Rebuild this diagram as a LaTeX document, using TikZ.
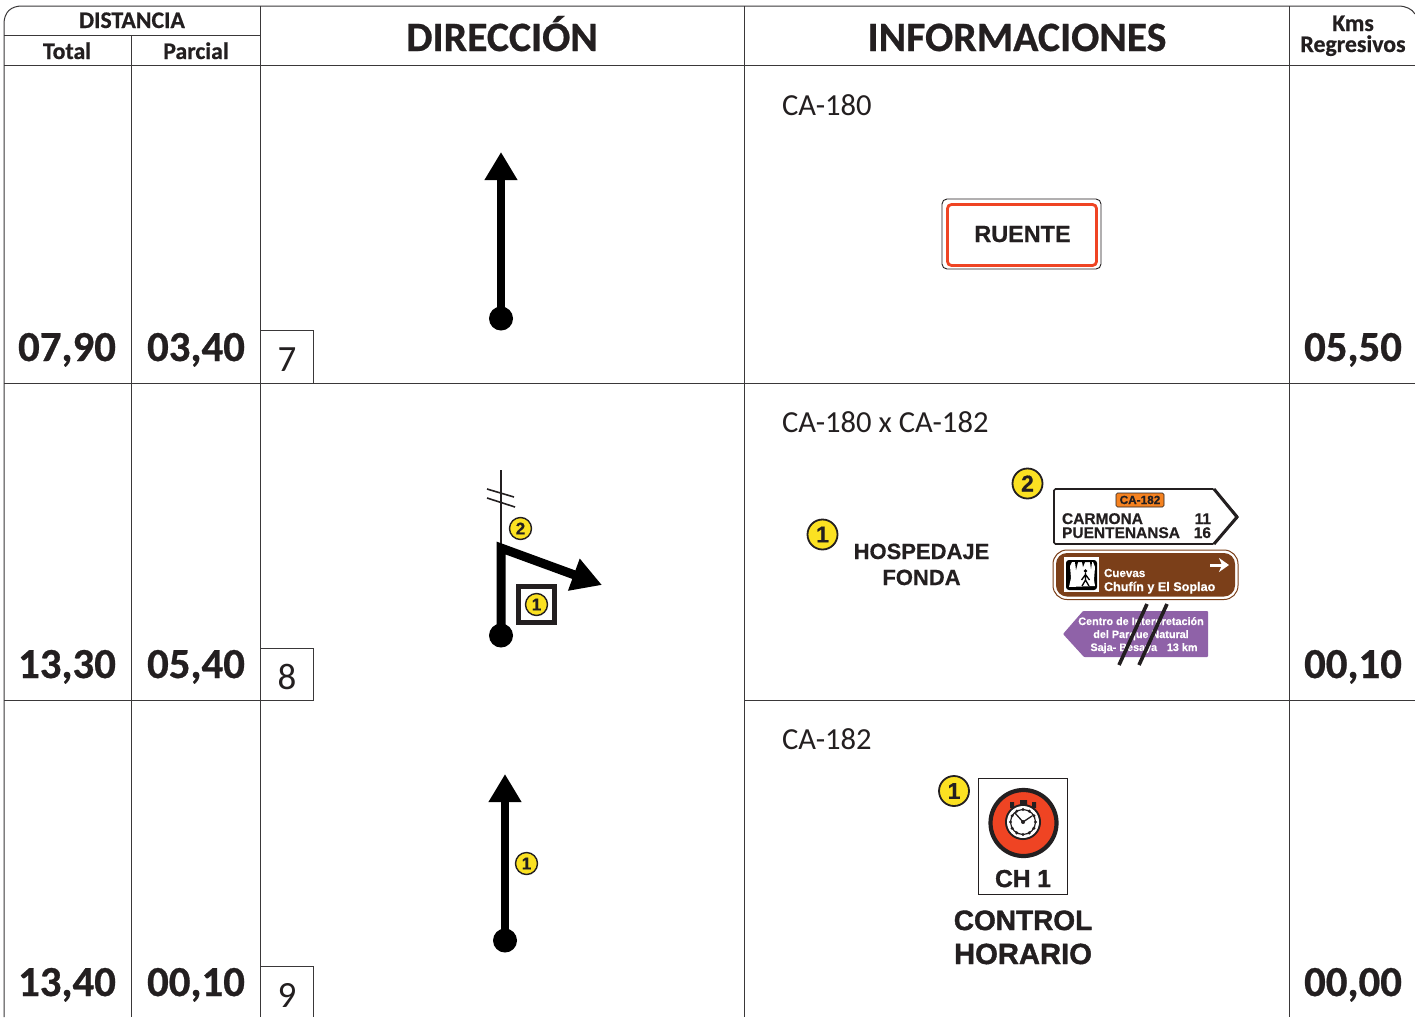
\documentclass[tikz,border=0pt]{standalone}
\usepackage{fontspec}
\usetikzlibrary{arrows.meta}
\setmainfont[BoldFeatures={FakeBold=0.6}]{Carlito}
\newfontfamily\arsf[BoldFeatures={FakeBold=0.5}]{Liberation Sans}
\newfontfamily\arsh[BoldFeatures={FakeBold=1.4}]{Liberation Sans}
\newcommand{\fs}[1]{\fontsize{#1}{#1}\selectfont}
\definecolor{gridc}{HTML}{3A3839}
\definecolor{ink}{HTML}{231F20}
\definecolor{badge}{HTML}{FBE122}
\definecolor{signred}{HTML}{EF4423}
\definecolor{brownsign}{HTML}{7B3F19}
\definecolor{purplesign}{HTML}{8F62A8}
\definecolor{orangeplate}{HTML}{F58220}
\tikzset{
  grid/.style={draw=gridc,line width=1pt},
  txt/.style={inner sep=0pt,outer sep=0pt,text=ink,anchor=base},
  ltxt/.style={txt,anchor=base west},
  head/.style={txt,font=\fs{23.8}\bfseries},
  big/.style={txt,font=\fs{41.7}\bfseries},
  num/.style={txt,font=\fs{42.8}\bfseries},
  idx/.style={txt,font=\fs{37}},
  road/.style={ltxt,font=\fs{30.6}},
  sgn/.style={txt,font=\arsf\bfseries\fs{#1}},
  hsgn/.style={txt,font=\arsh\bfseries\fs{#1}},
  lsgn/.style={ltxt,font=\arsf\bfseries\fs{#1}},
  markS/.style={circle,draw=ink,fill=badge,line width=1.4pt,minimum size=22pt,inner sep=0pt,text=ink,font=\arsf\bfseries\fs{17}},
  markL/.style={circle,draw=ink,fill=badge,line width=1.8pt,minimum size=30pt,inner sep=0pt,text=ink,font=\arsf\bfseries\fs{23}},
  startdot/.style={circle,fill=black,minimum size=24pt,inner sep=0pt},
  route/.style={line width=8pt,draw=black,-{Triangle[length=28pt,width=31pt]}},
  thinl/.style={draw=ink,line width=1.8pt},
  strike/.style={draw=ink,line width=3.6pt},
}
\begin{document}
\begin{tikzpicture}[x=1pt,y=-1pt]
\useasboundingbox (0,0) rectangle (1415,1017);
\fill[white] (0,0) rectangle (1415,1017);
% grid
\draw[grid] (4,1017) -- (4,24) .. controls (4,12) and (11,6) .. (22,6) -- (1398,6) .. controls (1406,6) and (1412,9) .. (1415,14);
\draw[grid] (4,35.6) -- (260.5,35.6);
\draw[grid] (4,65.6) -- (1415,65.6);
\draw[grid] (4,383) -- (1415,383);
\draw[grid] (4,700.8) -- (313,700.8);
\draw[grid] (744.5,700.8) -- (1415,700.8);
\draw[grid] (131.8,35.6) -- (131.8,1017);
\draw[grid] (260.5,6) -- (260.5,1017);
\draw[grid] (744.5,6) -- (744.5,1017);
\draw[grid] (1289,6) -- (1289,1017);
\draw[grid] (260.5,330) -- (313,330) -- (313,383);
\draw[grid] (260.5,648) -- (313,648) -- (313,700.8);
\draw[grid] (260.5,966) -- (313,966) -- (313,1017);
% header
\node[head] (hdist) at (132,28) {DISTANCIA};
\node[head] (htot) at (67,59) {Total};
\node[head] (hpar) at (196,59) {Parcial};
\node[big] (hdir) at (502,51) {DIRECCIÓN};
\node[big] (hinf) at (1017,51) {INFORMACIONES};
\node[head] (hkms) at (1353,31) {Kms};
\node[head] (hreg) at (1353,52) {Regresivos};
% row numbers
\node[num] (a1) at (67,361) {07,90};
\node[num] (b1) at (196,361) {03,40};
\node[num] (c1) at (1353,361) {05,50};
\node[num] (a2) at (67,678) {13,30};
\node[num] (b2) at (196,678) {05,40};
\node[num] (c2) at (1353,678) {00,10};
\node[num] (a3) at (67,996) {13,40};
\node[num] (b3) at (196,996) {00,10};
\node[num] (c3) at (1353,996) {00,00};
\node[idx] (i7) at (287,371) {7};
\node[idx] (i8) at (287,689) {8};
\node[idx] (i9) at (287,1007) {9};
% road names
\node[road] (r1) at (782,115.5) {CA-180};
\node[road] (r2) at (782,432.5) {CA-180 x CA-182};
\node[road] (r3) at (782,749.5) {CA-182};
% route 7
\node[startdot] (d1) at (501,318.5) {};
\coordinate (t1) at (501,152);
\draw[route] (d1.center) -- (t1);
% route 8
\draw[thinl] (501,470) -- (501,546);
\draw[draw=ink,line width=1.6pt] (487,489) -- (514,497);
\draw[draw=ink,line width=1.6pt] (487,498) -- (515,507);
\node[startdot] (d2) at (501,635.5) {};
\coordinate (k2) at (501,548);
\coordinate (t2) at (602,585);
\draw[route,line width=9pt,-{Triangle[length=30pt,width=32pt]}] (d2.center) -- (k2) -- (t2);
\node[markS] (m82) at (520.5,528.5) {2};
\node[draw=ink,line width=4.2pt,minimum size=36pt,inner sep=0pt] (sq8) at (536.5,604.5) {};
\node[markS] (m81) at (536.5,604.5) {1};
% route 9
\node[startdot] (d3) at (505,940.5) {};
\coordinate (t3) at (505,774);
\draw[route] (d3.center) -- (t3);
\node[markS] (m91) at (526.5,863.5) {1};
% RUENTE
\node[draw=ink,line width=0.9pt,rounded corners=5pt,minimum width=159pt,minimum height=70pt,inner sep=0pt] (ro) at (1021.5,234) {};
\node[draw=signred,line width=2.8pt,rounded corners=4pt,minimum width=149pt,minimum height=61pt,inner sep=0pt] (ri) at (1022,235) {};
\node[sgn=23.4] (rt) at (1022.5,242) {RUENTE};
% hospedaje
\node[markL] (m21) at (822.5,534.5) {1};
\node[sgn=22] (hos) at (921.5,559) {HOSPEDAJE};
\node[sgn=22] (fon) at (921.5,585) {FONDA};
\node[markL] (m22) at (1027.5,483.5) {2};
% white direction sign
\draw[draw=ink,line width=1.6pt,fill=white,rounded corners=1.5pt] (1054,489) -- (1214,489) -- (1238,517) -- (1214,544) -- (1054,544) -- cycle;
\draw[draw=ink,line width=3pt] (1214,489) -- (1237,517) -- (1214,544);
\node[draw=ink,fill=orangeplate,line width=0.6pt,rounded corners=1.5pt,minimum width=48pt,minimum height=14pt,inner sep=0pt] (pl) at (1140,500) {};
\node[sgn=11.8] (plt) at (1140,504) {CA-182};
\node[lsgn=15.5] (car) at (1062,524) {CARMONA};
\node[lsgn=15.5] (pue) at (1062,538) {PUENTENANSA};
\node[sgn=15.5,anchor=base east] (n11) at (1211,524) {11};
\node[sgn=15.5,anchor=base east] (n16) at (1211,538) {16};
% brown sign
\draw[draw=brownsign,line width=1pt,fill=white,rounded corners=14pt] (1053,550) rectangle (1238,599.5);
\fill[brownsign,rounded corners=11pt] (1056,553) rectangle (1235,596.5);
\fill[white] (1064,557) rectangle (1099,592);
\fill[black,rounded corners=3pt] (1066,560) rectangle (1097,590);
\fill[white] (1070,566) -- (1072,562) -- (1093,562) -- (1095,567) -- (1094,580) -- (1095,586) -- (1069,587) -- (1071,578) -- cycle;
\fill[black] (1075,562) -- (1076,570) -- (1078,562) -- (1082,562) -- (1083,567) -- (1085,562) -- (1090,562) -- (1091,569) -- (1092,562) -- cycle;
\fill[black] (1085.5,571) circle (1.8pt);
\draw[black,line width=1.3pt] (1085.5,573) -- (1085.5,580) (1085.5,580) -- (1082,586) (1085.5,580) -- (1089,586) (1085.5,574.5) -- (1081.5,580) (1085.5,574.5) -- (1089.5,580);
\node[lsgn=11.6,text=white] (cue) at (1104,577) {Cuevas};
\node[lsgn=12.6,text=white] (chu) at (1104,591) {Chufín y El Soplao};
\draw[white,line width=3pt,-{Stealth[length=10pt,width=14pt,inset=3pt]}] (1210,565) -- (1229,565);
% purple sign
\fill[purplesign,rounded corners=0.8pt] (1063,634) -- (1083,611) -- (1208,611) -- (1208,657) -- (1084,657) -- cycle;
\node[sgn=10.8,text=white] (p1) at (1141,625) {Centro de Interpretación};
\node[sgn=10.8,text=white] (p2) at (1141,638) {del Parque Natural};
\node[sgn=10.8,text=white] (p3) at (1144,651) {Saja- Besaya\hspace{0.9em}13 km};
\draw[strike] (1147,604) -- (1119,665);
\draw[strike] (1167,604) -- (1139,665);
% CH sign
\node[markL] (m31) at (954,791) {1};
\node[draw=ink,fill=white,line width=0.9pt,minimum width=89pt,minimum height=116pt,inner sep=0pt] (chb) at (1023,836) {};
\node[circle,draw=ink,fill=signred,line width=4.2pt,minimum size=66pt,inner sep=0pt] (chc) at (1023.5,823) {};
\fill[ink] (1020,800) rectangle (1027,806) (1010,802) rectangle (1014,808) (1032,802) rectangle (1036,808);
\fill[ink] (1023,822) circle (18pt);
\fill[white] (1023,822) circle (16pt);
\foreach \a in {0,30,...,330}{\fill[ink] ({1023+12.5*cos(\a)},{822+12.5*sin(\a)}) circle (1.7pt);}
\draw[ink,line width=1.2pt] (1023,822) circle (12.5pt);
\draw[ink,line width=1.3pt] (1015,813) -- (1023,822) -- (1032,816);
\fill[ink] (1023,822) circle (2pt);
\node[hsgn=24.5] (cht) at (1023,887) {CH 1};
\node[hsgn=28] (ct1) at (1023,930) {CONTROL};
\node[hsgn=29.2] (ct2) at (1023,964) {HORARIO};
\end{tikzpicture}
\end{document}
